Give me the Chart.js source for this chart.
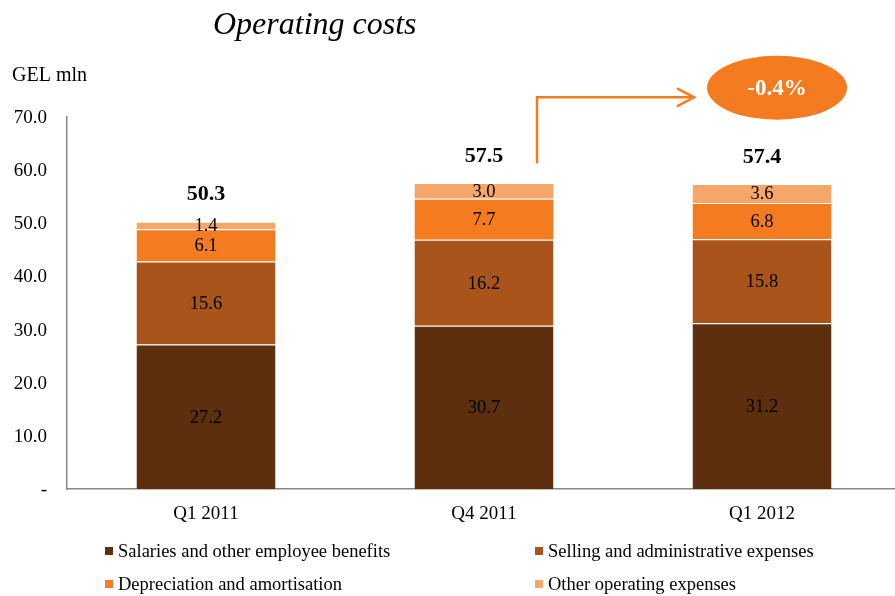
<!DOCTYPE html>
<html>
<head>
<meta charset="utf-8">
<script src="https://cdn.jsdelivr.net/npm/chart.js@4"></script>
<style>
  html, body { margin: 0; padding: 0; background: #fff; overflow: hidden; }
  #wrap { width: 903px; height: 596px; }
</style>
</head>
<body>
<div id="wrap"><canvas id="c" width="903" height="596"></canvas></div>
<script>
const categories = ['Q1 2011', 'Q4 2011', 'Q1 2012'];
const salaries = [27.2, 30.7, 31.2];
const selling = [15.6, 16.2, 15.8];
const depreciation = [6.1, 7.7, 6.8];
const other = [1.4, 3.0, 3.6];
const totals = [50.3, 57.5, 57.4];
const changeLabel = '-0.4%';
const yTicks = [0, 10, 20, 30, 40, 50, 60, 70];

const serif = '"Liberation Serif", "Times New Roman", serif';
const colors = ['#5E2F0C', '#A9541A', '#F47B20', '#F7A669'];

function txt(ctx, s, x, y, font, align) {
    ctx.font = font;
    ctx.textAlign = align || 'center';
    ctx.textBaseline = 'middle';
    ctx.fillText(s, x, y);
}

const overlay = {
    id: 'overlay',
    afterDatasetsDraw(chart) {
        const ctx = chart.ctx;
        const x = chart.scales.x, y = chart.scales.y;
        ctx.save();
        ctx.fillStyle = '#000';
        // axis labels
        y.ticks.forEach(t => {
            txt(ctx, t.value === 0 ? '-' : t.value.toFixed(1), 47, y.getPixelForValue(t.value) + 1, '19px ' + serif, 'right');
        });
        categories.forEach((c, i) => txt(ctx, c, x.getPixelForValue(i), 514, '19px ' + serif));
        // segment values
        chart.data.datasets.forEach((ds, di) => {
            chart.getDatasetMeta(di).data.forEach((bar, i) => {
                txt(ctx, ds.data[i].toFixed(1), bar.x, (bar.y + bar.base) / 2 + 1, '18.5px ' + serif);
            });
        });
        // totals
        totals.forEach((t, i) => {
            txt(ctx, t.toFixed(1), x.getPixelForValue(i), y.getPixelForValue(t) - 27, 'bold 22px ' + serif);
        });
        // arrow
        const ax = x.getPixelForValue(1) + 53;
        const ay0 = y.getPixelForValue(totals[1]) - 20;
        const ay1 = y.getPixelForValue(73.7);
        const ax1 = x.getPixelForValue(2) - 68;
        ctx.strokeStyle = '#F47B20';
        ctx.lineWidth = 2.5;
        ctx.beginPath();
        ctx.moveTo(ax, ay0);
        ctx.lineTo(ax, ay1);
        ctx.lineTo(ax1, ay1);
        ctx.stroke();
        ctx.beginPath();
        ctx.moveTo(ax1 - 17, ay1 - 9);
        ctx.lineTo(ax1, ay1);
        ctx.lineTo(ax1 - 17, ay1 + 9);
        ctx.stroke();
        // ellipse
        const ex = x.getPixelForValue(2) + 15, ey = y.getPixelForValue(75.5);
        ctx.fillStyle = '#F47B20';
        ctx.beginPath();
        ctx.ellipse(ex, ey, 70, 32, 0, 0, Math.PI * 2);
        ctx.fill();
        ctx.fillStyle = '#fff';
        txt(ctx, changeLabel, ex, ey + 1, 'bold 23px ' + serif);
        // title + unit
        ctx.fillStyle = '#000';
        txt(ctx, 'Operating costs', 213, 26, 'italic 32px ' + serif, 'left');
        txt(ctx, 'GEL mln', 12, 76, '20px ' + serif, 'left');
        // legend
        const pos = [[105, 552], [535, 552], [105, 585], [535, 585]];
        chart.data.datasets.forEach((ds, i) => {
            const [lx, ly] = pos[i];
            ctx.fillStyle = ds.backgroundColor;
            ctx.fillRect(lx, ly - 5, 8, 8);
            ctx.fillStyle = '#000';
            txt(ctx, ds.label, lx + 13, ly, '18.5px ' + serif, 'left');
        });
        ctx.restore();
    }
};

const mk = (label, data, i) => ({
    label: label,
    data: data,
    backgroundColor: colors[i],
    borderColor: '#fff',
    borderWidth: { top: 1, bottom: 0, left: 0, right: 0 },
    borderSkipped: false,
    categoryPercentage: 1,
    barPercentage: 0.5
});

new Chart(document.getElementById('c'), {
    type: 'bar',
    data: {
        labels: categories,
        datasets: [
            mk('Salaries and other employee benefits', salaries, 0),
            mk('Selling and administrative expenses', selling, 1),
            mk('Depreciation and amortisation', depreciation, 2),
            mk('Other operating expenses', other, 3)
        ]
    },
    options: {
        responsive: false,
        animation: false,
        layout: { padding: { top: 117, right: 2, bottom: 0, left: 0 } },
        plugins: { legend: { display: false }, tooltip: { enabled: false } },
        scales: {
            x: {
                stacked: true,
                grid: { display: false, drawTicks: false },
                border: { display: true, color: '#888', width: 1.5 },
                ticks: { color: 'rgba(0,0,0,0)', font: { family: serif, size: 16 }, padding: 16 },
                afterFit: s => { s.height = 107; }
            },
            y: {
                stacked: true,
                min: 0, max: 70,
                afterBuildTicks: s => { s.ticks = yTicks.map(v => ({ value: v })); },
                grid: { display: false, drawTicks: false },
                border: { display: true, color: '#888', width: 1.5 },
                ticks: {
                    color: 'rgba(0,0,0,0)', font: { family: serif, size: 16 }, padding: 20,
                    callback: v => v === 0 ? '-' : v.toFixed(1)
                },
                afterFit: s => { s.width = 67; }
            }
        }
    },
    plugins: [overlay]
});
</script>
</body>
</html>
